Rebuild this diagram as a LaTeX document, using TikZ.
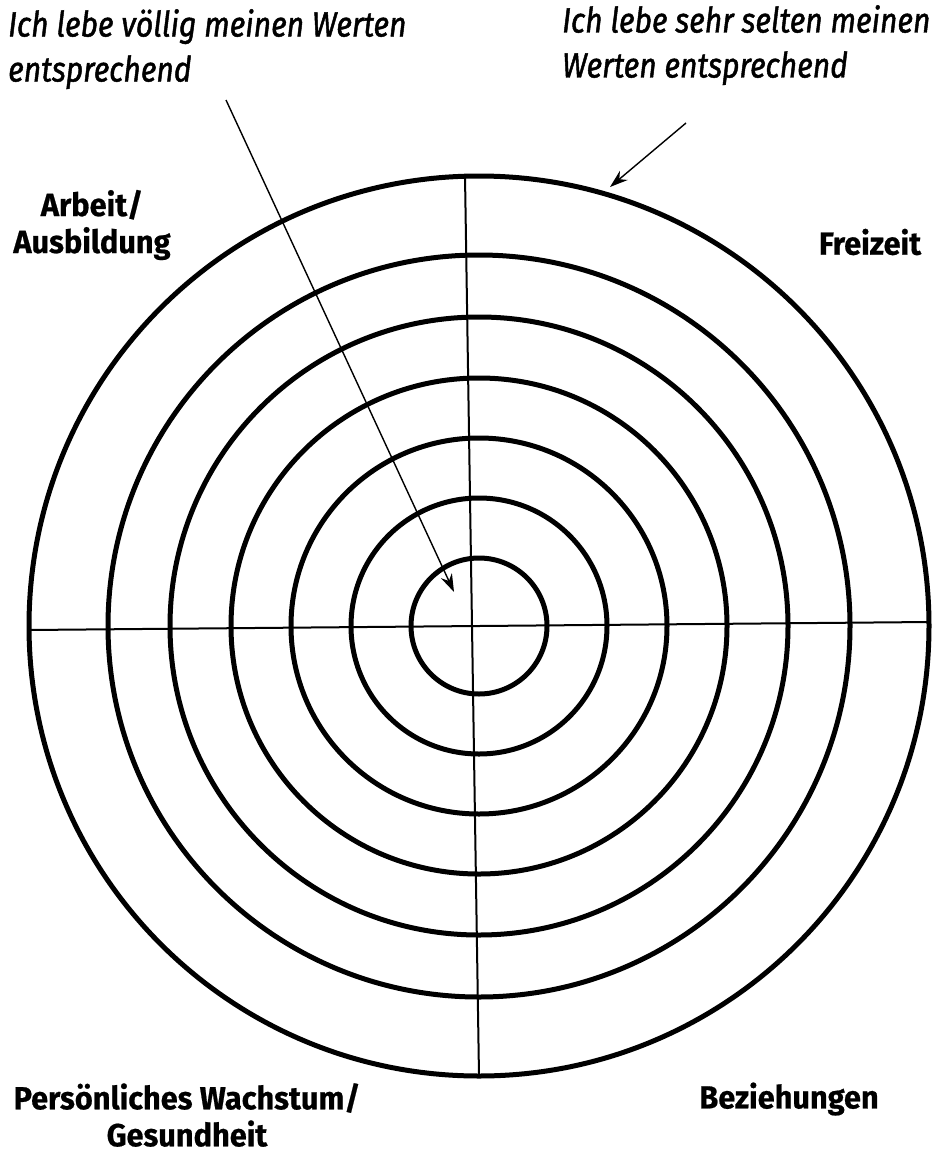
\documentclass[tikz,border=0pt]{standalone}
\usepackage{fontspec}
\setmainfont{Fira Sans}
\newfontfamily\quotefont{Fira Sans}[FakeStretch=0.86, FakeBold=1.3]
\newfontfamily\areafont{Fira Sans}[FakeStretch=0.96, FakeBold=0.6]
\usetikzlibrary{arrows.meta}
\tikzset{
  ring/.style={circle, draw=black, line width=5pt, inner sep=0pt, outer sep=0pt},
  axis/.style={draw=black, line width=2pt},
  pointer/.style={draw=black, line width=1.4pt, -{Stealth[length=18pt,width=12pt]}},
  quote/.style={font=\quotefont\fontsize{35}{45}\selectfont\itshape, align=left, inner sep=0pt},
  area/.style={font=\areafont\fontsize{32}{37}\selectfont\bfseries, align=center, inner sep=0pt},
}
\begin{document}
\begin{tikzpicture}[x=1pt,y=-1pt]
\useasboundingbox (0,0) rectangle (936,1156);
\fill[white] (0,0) rectangle (936,1156);
\coordinate (c) at (479,626);
\node[ring, minimum size=900pt] (r1) at (c) {};
\node[ring, minimum size=742pt] (r2) at (c) {};
\node[ring, minimum size=618pt] (r3) at (c) {};
\node[ring, minimum size=496pt] (r4) at (c) {};
\node[ring, minimum size=376pt] (r5) at (c) {};
\node[ring, minimum size=256pt] (r6) at (c) {};
\node[ring, minimum size=136pt] (r7) at (c) {};
\draw[axis] ([yshift=-4pt]r1.west) -- ([yshift=4pt]r1.east);
\draw[axis] ([xshift=-14pt]r1.north) -- (r1.south);

\node[quote, anchor=north west] (q1) at (8,9) {Ich lebe völlig meinen Werten\\entsprechend};
\node[quote, anchor=north west] (q2) at (562,5) {Ich lebe sehr selten meinen\\Werten entsprechend};
\coordinate (a1s) at (226,100);
\coordinate (a1e) at (454,592);
\coordinate (a2s) at (686,123);
\coordinate (a2e) at (610,187);
\draw[pointer] (a1s) -- (a1e);
\draw[pointer] (a2s) -- (a2e);

\node[area] (arbeit) at (92,225) {Arbeit/\\Ausbildung};
\node[area] (frei) at (870,242) {Freizeit};
\node[area] (pers) at (187,1115) {Persönliches Wachstum/\\Gesundheit};
\node[area] (bez) at (789,1099) {Beziehungen};
\end{tikzpicture}
\end{document}
